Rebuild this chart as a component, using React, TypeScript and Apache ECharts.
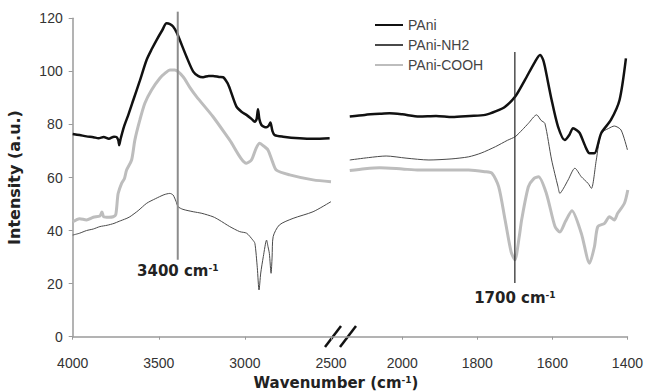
import React, { useEffect, useRef } from "react";
import * as echarts from "echarts";

// Series names (legend order)
const seriesNames = ["PAni", "PAni-NH2", "PAni-COOH"];

// Axis ranges / ticks
const yTicks = { min: 0, max: 120, interval: 20 };
const highRange = { min: 2500, max: 4000, interval: 500 }; // left segment
const lowRange = { min: 1400, max: 2190, interval: 200 }; // right segment

// ---- High-wavenumber segment (4000 - 2500 cm-1) ----
const paniHigh: [number, number][] = [
  [4000, 76.4], [3960, 76.0], [3920, 75.5], [3880, 75.2], [3850, 74.8], [3820, 75.3],
  [3790, 74.6], [3760, 75.4], [3745, 75.2], [3735, 74.0], [3730, 72.2], [3722, 74.5],
  [3702, 79.2], [3675, 84.0], [3648, 89.2], [3610, 96.5], [3571, 104.3], [3540, 108.5],
  [3513, 111.8], [3480, 115.5], [3455, 118.1], [3435, 117.8], [3417, 116.9], [3395, 114.5],
  [3378, 111.8], [3339, 105.5], [3300, 99.9], [3270, 98.2], [3243, 97.8], [3210, 98.3],
  [3185, 98.3], [3150, 97.9], [3127, 97.8], [3100, 95.5], [3088, 93.6], [3049, 86.7],
  [3020, 84.8], [2991, 83.6], [2960, 82.0], [2943, 81.0], [2932, 82.0], [2924, 85.7],
  [2916, 82.0], [2904, 79.8], [2885, 79.0], [2875, 78.9], [2862, 79.5], [2852, 80.7],
  [2840, 77.5], [2827, 76.0], [2778, 75.4], [2682, 74.8], [2600, 74.6], [2508, 74.8],
];

const nh2High: [number, number][] = [
  [4000, 38.3], [3960, 39.0], [3920, 40.0], [3880, 40.6], [3842, 41.5], [3800, 42.0],
  [3760, 42.7], [3730, 43.5], [3690, 44.5], [3668, 45.2], [3620, 47.5], [3570, 50.3],
  [3520, 52.0], [3470, 53.5], [3436, 54.0], [3417, 53.4], [3400, 51.0], [3388, 49.0],
  [3360, 48.0], [3300, 47.1], [3250, 46.5], [3185, 45.2], [3150, 44.0], [3088, 41.5],
  [3030, 39.6], [2990, 39.0], [2955, 36.5], [2942, 35.2], [2928, 26.0], [2918, 17.6],
  [2908, 24.0], [2893, 30.2], [2874, 36.4], [2866, 34.0], [2858, 31.4], [2848, 23.9],
  [2842, 30.0], [2836, 37.7], [2800, 42.1], [2720, 44.6], [2604, 47.1], [2500, 50.9],
];

const coohHigh: [number, number][] = [
  [4000, 43.3], [3960, 44.5], [3920, 44.0], [3880, 45.0], [3842, 45.5], [3830, 47.0],
  [3820, 45.2], [3790, 45.0], [3765, 45.2], [3750, 46.0], [3740, 52.0], [3736, 54.0],
  [3716, 57.8], [3700, 59.5], [3687, 62.8], [3658, 66.6], [3639, 74.1], [3610, 81.7],
  [3581, 88.0], [3542, 93.0], [3494, 97.4], [3460, 99.5], [3436, 100.5], [3407, 100.5],
  [3359, 98.0], [3320, 94.0], [3281, 90.5], [3185, 82.9], [3088, 74.1], [2991, 65.4],
  [2962, 66.6], [2935, 71.0], [2914, 72.9], [2890, 71.8], [2866, 70.4], [2840, 66.0],
  [2817, 62.8], [2740, 61.0], [2604, 59.1], [2500, 58.4],
];

// ---- Low-wavenumber segment (2140 - 1400 cm-1) ----
const paniLow: [number, number][] = [
  [2140, 83.0], [2100, 83.6], [2060, 84.0], [2034, 84.2], [2000, 83.8], [1955, 83.0],
  [1910, 83.2], [1867, 82.8], [1820, 83.2], [1779, 83.6], [1750, 85.0], [1726, 86.7],
  [1699, 90.5], [1673, 96.8], [1646, 103.7], [1633, 106.2], [1625, 104.5], [1620, 101.8],
  [1602, 89.2], [1585, 79.2], [1567, 74.1], [1555, 76.0], [1545, 78.6], [1535, 77.8],
  [1527, 76.7], [1510, 71.0], [1501, 69.1], [1488, 69.1], [1470, 76.7], [1444, 81.7],
  [1421, 89.2], [1404, 104.9],
];

const nh2Low: [number, number][] = [
  [2140, 66.6], [2090, 67.5], [2043, 68.1], [1990, 67.3], [1929, 66.6], [1870, 67.0],
  [1823, 67.8], [1790, 69.2], [1752, 71.6], [1720, 74.0], [1699, 75.4], [1680, 78.0],
  [1664, 80.4], [1642, 83.6], [1630, 81.5], [1620, 80.4], [1602, 66.6], [1585, 56.5],
  [1580, 54.0], [1570, 56.0], [1558, 59.1], [1540, 63.5], [1523, 60.3], [1505, 57.8],
  [1496, 55.9], [1483, 66.6], [1470, 76.7], [1450, 78.5], [1435, 79.4], [1417, 77.9],
  [1400, 70.4],
];

const coohLow: [number, number][] = [
  [2140, 62.6], [2100, 63.3], [2060, 63.7], [2000, 63.2], [1955, 62.8], [1900, 62.8],
  [1823, 62.8], [1780, 62.2], [1761, 61.6], [1743, 56.5], [1726, 44.0], [1710, 32.0],
  [1700, 29.0], [1688, 38.0], [1682, 44.0], [1664, 56.5], [1650, 59.5], [1637, 60.3],
  [1616, 54.0], [1593, 41.5], [1580, 39.5], [1565, 43.5], [1548, 47.5], [1523, 39.0],
  [1501, 27.7], [1488, 33.9], [1479, 41.5], [1461, 42.7], [1448, 45.2], [1435, 44.0],
  [1426, 46.5], [1408, 50.3], [1399, 55.3],
];

// Annotation lines: position (cm-1), label, vertical extent
const annotations = [
  { segment: 0, at: 3390, label: "3400 cm", from: 29, to: 122.5 },
  { segment: 1, at: 1700, label: "1700 cm", from: 20.2, to: 107.3 },
];

const colors: Record<string, string> = { PAni: "#111111", "PAni-NH2": "#4a4a4a", "PAni-COOH": "#bdbdbd" };
const widths: Record<string, number> = { PAni: 2.5, "PAni-NH2": 1, "PAni-COOH": 3 };

export default function App() {
  const ref = useRef<HTMLDivElement>(null);
  useEffect(() => {
    if (!ref.current) return;
    const chart = echarts.init(ref.current, undefined, { renderer: "svg" });

    const axisGray = "#9a9a9a";
    const labelFont = "Liberation Sans";
    const boldFont = "DejaVu Sans";

    const mkSeries = (name: string, data: [number, number][], idx: number) => ({
      name,
      type: "line",
      xAxisIndex: idx,
      yAxisIndex: idx,
      data,
      symbol: "none",
      smooth: 0.25,
      clip: false,
      z: name === "PAni" ? 4 : name === "PAni-NH2" ? 3 : 2,
      color: colors[name],
      lineStyle: { color: colors[name], width: widths[name] },
    });

    const mkAnnotSeries = (a: typeof annotations[number]) => {
      const lineColor = a.segment === 0 ? "#8c8c8c" : "#222";
      return {
        name: "annot" + a.segment,
        type: "line",
        xAxisIndex: a.segment,
        yAxisIndex: a.segment,
        clip: false,
        silent: true,
        z: 5,
        symbol: "circle",
        symbolSize: 0,
        showSymbol: true,
        itemStyle: { color: lineColor },
        lineStyle: { color: lineColor, width: a.segment === 0 ? 2 : 1.2 },
        data: [
          {
            value: [a.at, a.from],
            label: {
              show: true,
              position: "bottom",
              distance: a.segment === 0 ? 4 : 7,
              formatter: "{a|" + a.label + "}{b|-1}",
              rich: {
                a: { fontFamily: boldFont, fontWeight: "bold", fontSize: 15, color: "#222" },
                b: { fontFamily: boldFont, fontWeight: "bold", fontSize: 9, color: "#222", verticalAlign: "top" },
              },
            },
          },
          { value: [a.at, a.to], label: { show: false } },
        ],
      };
    };

    const xAxisBase = {
      type: "value",
      inverse: true,
      splitLine: { show: false },
      axisLine: { show: true, onZero: false, lineStyle: { color: axisGray, width: 1.5 } },
      axisTick: { show: true, length: 3, lineStyle: { color: axisGray } },
      axisLabel: {
        margin: 19, fontSize: 14, fontFamily: labelFont, color: "#333",
        formatter: (v: number) => String(v),
      },
    };

    const option: any = {
      animation: false,
      backgroundColor: "#ffffff",
      grid: [
        { left: 72.7, top: 18.3, width: 258.3, height: 318.4 },
        { left: 331, top: 18.3, width: 299, height: 318.4 },
      ],
      xAxis: [
        { ...xAxisBase, gridIndex: 0, ...highRange },
        { ...xAxisBase, gridIndex: 1, ...lowRange, axisLabel: { ...xAxisBase.axisLabel, showMaxLabel: false } },
      ],
      yAxis: [
        {
          type: "value",
          gridIndex: 0,
          ...yTicks,
          name: "Intensity (a.u.)",
          nameLocation: "middle",
          nameGap: 50,
          nameTextStyle: { fontFamily: boldFont, fontWeight: "bold", fontSize: 16, color: "#222" },
          splitLine: { show: false },
          axisLine: { show: true, lineStyle: { color: axisGray, width: 1.5 } },
          axisTick: { show: true, length: 4, lineStyle: { color: axisGray } },
          axisLabel: { margin: 10, fontSize: 14, fontFamily: labelFont, color: "#333" },
        },
        { type: "value", gridIndex: 1, ...yTicks, show: false, splitLine: { show: false } },
      ],
      legend: {
        data: seriesNames,
        orient: "vertical",
        left: 369,
        top: 13,
        itemWidth: 28,
        itemHeight: 14,
        itemGap: 6,
        itemStyle: { color: "rgba(0,0,0,0)", borderWidth: 0, opacity: 0 },
        textStyle: { fontSize: 14, fontFamily: labelFont, color: "#444" },
      },
      series: [
        mkSeries("PAni-COOH", coohHigh, 0),
        mkSeries("PAni-NH2", nh2High, 0),
        mkSeries("PAni", paniHigh, 0),
        mkSeries("PAni-COOH", coohLow, 1),
        mkSeries("PAni-NH2", nh2Low, 1),
        mkSeries("PAni", paniLow, 1),
        ...annotations.map(mkAnnotSeries),
      ],
      graphic: [
        {
          type: "text",
          x: 336,
          y: 383,
          style: {
            text: "{a|Wavenumber (cm}{b|-1}{a|)}",
            align: "center",
            verticalAlign: "middle",
            rich: {
              a: { fontFamily: boldFont, fontWeight: "bold", fontSize: 15, fill: "#222" },
              b: { fontFamily: boldFont, fontWeight: "bold", fontSize: 9, fill: "#222", verticalAlign: "top" },
            },
          },
        },
        { type: "line", shape: { x1: 325, y1: 347, x2: 341, y2: 326 }, style: { stroke: "#111", lineWidth: 2.5 } },
        { type: "line", shape: { x1: 340, y1: 347, x2: 356, y2: 326 }, style: { stroke: "#111", lineWidth: 2.5 } },
      ],
    };

    chart.setOption(option);
    return () => chart.dispose();
  }, []);

  return (
    <div
      ref={ref}
      style={{ position: "fixed", left: 0, top: 0, width: 646, height: 392, background: "#fff" }}
    />
  );
}
